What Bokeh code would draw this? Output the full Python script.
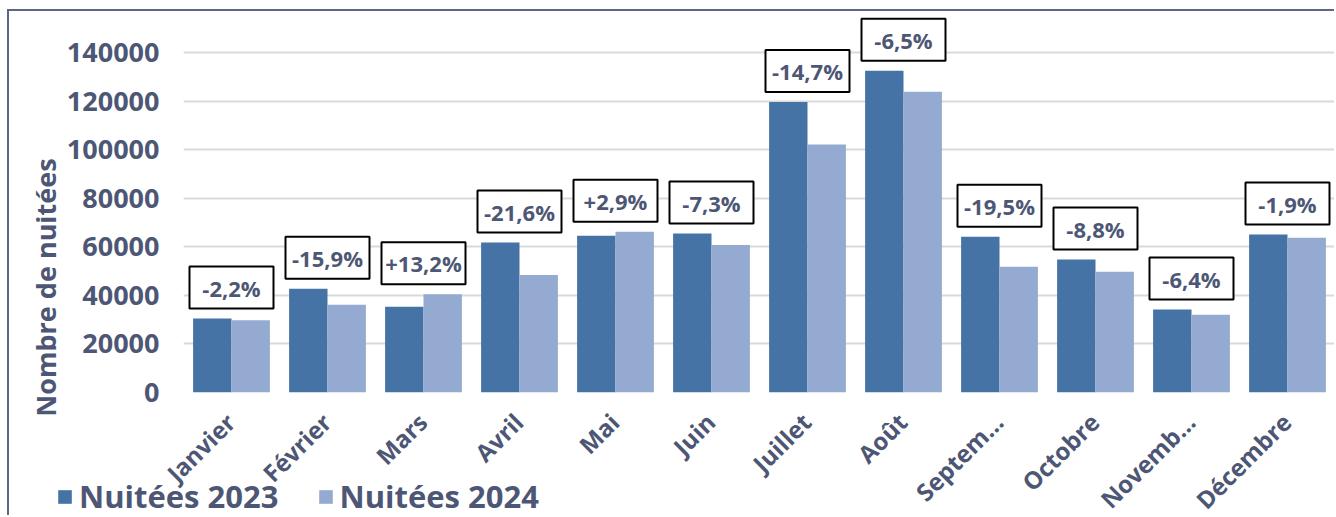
import math
from bokeh.plotting import figure
from bokeh.models import (ColumnDataSource, Legend, LegendItem, Label, FixedTicker,
                          NumeralTickFormatter, Range1d)
from bokeh.transform import dodge
from bokeh.core.properties import value
from bokeh.embed import file_html
from bokeh.resources import INLINE

months = ["Janvier", "Février", "Mars", "Avril", "Mai", "Juin", "Juillet",
          "Août", "Septem…", "Octobre", "Novemb…", "Décembre"]
nuitees_2023 = [30500, 42800, 35400, 61800, 64600, 65500, 119800, 132600, 64200, 54800, 34200, 65100]
nuitees_2024 = [29800, 36200, 40500, 48400, 66300, 60800, 102200, 124000, 51800, 49800, 32000, 63800]
variations = ["-2,2%", "-15,9%", "+13,2%", "-21,6%", "+2,9%", "-7,3%", "-14,7%",
              "-6,5%", "-19,5%", "-8,8%", "-6,4%", "-1,9%"]
y_ticks = [0, 20000, 40000, 60000, 80000, 100000, 120000, 140000]

C23 = "#4573a6"
C24 = "#94aad0"
TXT = "#4d5775"
FONT = "Open Sans"

# page geometry (page pixels)
PW, PH = 1336, 517
OX, OY = 9, 11                       # canvas origin of the main figure on the page
W, H = PW - OX, PH - OY
TOP, BOTTOM, LEFT, RIGHT = 5, 125, 174, 1
Y_END = 155000
FRAME_H = H - TOP - BOTTOM
FRAME_W = W - LEFT - RIGHT
px = Y_END / FRAME_H  # data units per pixel

src = ColumnDataSource(dict(
    month=months, v23=nuitees_2023, v24=nuitees_2024, lab=variations,
    ybox=[max(a, b) + 31 * px for a, b in zip(nuitees_2023, nuitees_2024)],
))

p = figure(x_range=months, y_range=(0, Y_END), width=W, height=H,
           output_backend="svg", toolbar_location=None,
           min_border_left=LEFT, min_border_right=RIGHT, min_border_top=TOP,
           min_border_bottom=BOTTOM)
p.styles = {"margin-left": f"{OX - 2}px", "margin-top": f"{OY - 2}px",
            "border-left": "2px solid #5b6784", "border-top": "2px solid #5b6784"}
p.outline_line_color = None

r23 = p.vbar(x=dodge("month", -0.2, range=p.x_range), top="v23", width=0.4,
             source=src, fill_color=C23, line_color=None)
r24 = p.vbar(x=dodge("month", 0.2, range=p.x_range), top="v24", width=0.4,
             source=src, fill_color=C24, line_color=None)

p.rect(x="month", y="ybox", width=84, height=42, width_units="screen",
       height_units="screen", source=src, fill_color="white",
       line_color="black", line_width=2)
p.text(x="month", y="ybox", text="lab", source=src, text_align="center",
       text_baseline="middle", text_color=TXT, text_font=value(FONT),
       text_font_size="22px", text_font_style="bold")

p.xgrid.grid_line_color = None
p.ygrid.grid_line_color = "#d9d9d9"
p.ygrid.grid_line_width = 2
p.yaxis.ticker = FixedTicker(ticks=y_ticks)
p.ygrid.ticker = FixedTicker(ticks=y_ticks)
p.yaxis.formatter = NumeralTickFormatter(format="0")
p.xaxis.visible = False

ax = p.yaxis
ax.axis_line_color = None
ax.major_tick_line_color = None
ax.minor_tick_line_color = None
ax.major_label_text_color = TXT
ax.major_label_text_font = FONT
ax.major_label_text_font_style = "bold"
ax.major_label_text_font_size = "27px"
ax.major_label_standoff = 18

# transparent overlay covering the page, in page pixel coordinates:
# month labels (rotated), y-axis title and legend, all outside the main frame
q = figure(width=PW, height=PH, x_range=Range1d(0, PW), y_range=Range1d(PH, 0),
           output_backend="svg", toolbar_location=None,
           x_axis_type=None, y_axis_type=None, min_border=0)
q.styles = {"position": "absolute", "left": "0px", "top": "0px",
            "pointer-events": "none"}
q.background_fill_alpha = 0
q.border_fill_alpha = 0
q.outline_line_color = None
q.xgrid.visible = False
q.ygrid.visible = False

step = FRAME_W / len(months)
frame_left = OX + LEFT
frame_bottom = OY + TOP + FRAME_H
lab_src = ColumnDataSource(dict(
    text=months,
    x=[frame_left + step * (i + 0.5) - 1 for i in range(len(months))],
    y=[frame_bottom + 25] * len(months),
))
q.text(x="x", y="y", text="text", source=lab_src, angle=math.pi / 4,
       text_align="right", text_baseline="middle", text_color=TXT,
       text_font=value(FONT), text_font_size="24px", text_font_style="bold")

q.add_layout(Label(x=45, y=287, text="Nombre de nuitées", angle=math.pi / 2,
                   text_align="center", text_baseline="middle", text_color=TXT,
                   text_font=FONT, text_font_size="27px", text_font_style="bold"))

# legend swatches: renderers fed with the data but lying outside this overlay's view
d23 = q.vbar(x="v23", top="v23", width=1, source=src, fill_color=C23, line_color=None)
d24 = q.vbar(x="v24", top="v24", width=1, source=src, fill_color=C24, line_color=None)
legend = Legend(items=[LegendItem(label="Nuitées 2023", renderers=[d23], index=0),
                       LegendItem(label="Nuitées 2024", renderers=[d24], index=0)],
                orientation="horizontal", location=(56, 0),
                background_fill_alpha=0, border_line_color=None,
                glyph_width=17, glyph_height=17, label_standoff=6, spacing=38,
                label_text_font=FONT, label_text_font_size="31px",
                label_text_font_style="bold", label_text_color=TXT,
                padding=0, margin=0)
q.add_layout(legend, "center")

open("out.html", "w").write(file_html([p, q], INLINE))
